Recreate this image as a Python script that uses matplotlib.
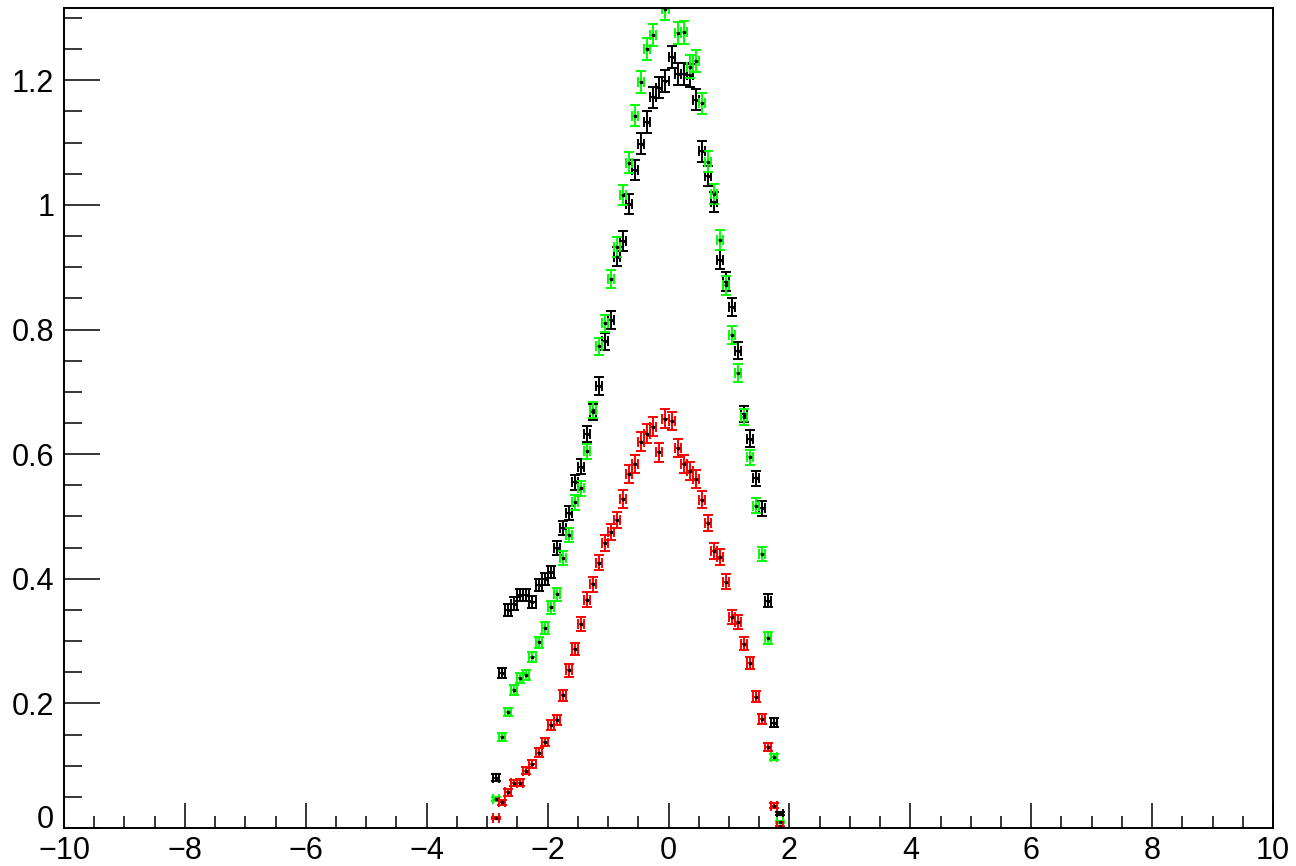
import numpy as np
import matplotlib
matplotlib.use("Agg")
import matplotlib.pyplot as plt
from matplotlib.ticker import MultipleLocator

# bin centres
x_centers = [-2.85 + 0.1 * i for i in range(48)]
x_halfwidth = 0.05

black_vals = [0.081, 0.249, 0.350, 0.360, 0.374, 0.374, 0.363, 0.390, 0.400, 0.411,
              0.449, 0.481, 0.505, 0.555, 0.580, 0.632, 0.668, 0.709, 0.781, 0.815,
              0.917, 0.942, 1.002, 1.056, 1.098, 1.133, 1.173, 1.188, 1.199, 1.237,
              1.210, 1.210, 1.208, 1.169, 1.086, 1.046, 1.004, 0.912, 0.877, 0.836,
              0.766, 0.665, 0.625, 0.561, 0.513, 0.365, 0.169, 0.023]
black_errs = [0.005, 0.008, 0.010, 0.010, 0.010, 0.010, 0.010, 0.010, 0.010, 0.010,
              0.011, 0.011, 0.011, 0.012, 0.012, 0.013, 0.013, 0.014, 0.014, 0.014,
              0.015, 0.016, 0.016, 0.016, 0.017, 0.017, 0.017, 0.017, 0.018, 0.018,
              0.018, 0.018, 0.018, 0.017, 0.017, 0.016, 0.016, 0.015, 0.015, 0.015,
              0.014, 0.013, 0.013, 0.012, 0.012, 0.010, 0.007, 0.002]

green_vals = [0.046, 0.146, 0.186, 0.222, 0.240, 0.246, 0.274, 0.298, 0.321, 0.354,
              0.375, 0.433, 0.470, 0.523, 0.545, 0.605, 0.671, 0.773, 0.810, 0.881,
              0.933, 1.016, 1.068, 1.143, 1.197, 1.250, 1.273, 1.350, 1.315, 1.340,
              1.276, 1.277, 1.222, 1.231, 1.163, 1.069, 1.018, 0.943, 0.871, 0.791,
              0.730, 0.660, 0.595, 0.517, 0.440, 0.305, 0.114, 0.010]
green_errs = [0.003, 0.006, 0.007, 0.008, 0.008, 0.008, 0.008, 0.009, 0.009, 0.010,
              0.010, 0.011, 0.011, 0.012, 0.012, 0.012, 0.013, 0.014, 0.014, 0.015,
              0.016, 0.016, 0.017, 0.017, 0.018, 0.018, 0.018, 0.019, 0.018, 0.019,
              0.018, 0.018, 0.018, 0.018, 0.017, 0.017, 0.016, 0.016, 0.015, 0.014,
              0.014, 0.013, 0.012, 0.012, 0.011, 0.009, 0.005, 0.002]

red_vals = [0.016, 0.041, 0.057, 0.072, 0.073, 0.092, 0.103, 0.121, 0.138, 0.165,
            0.173, 0.213, 0.253, 0.287, 0.327, 0.366, 0.391, 0.426, 0.458, 0.475,
            0.494, 0.528, 0.568, 0.584, 0.620, 0.633, 0.644, 0.603, 0.657, 0.653,
            0.610, 0.584, 0.573, 0.560, 0.527, 0.489, 0.445, 0.435, 0.395, 0.339,
            0.331, 0.296, 0.265, 0.211, 0.175, 0.130, 0.036, 0.003]
red_errs = [0.002, 0.004, 0.005, 0.005, 0.005, 0.006, 0.006, 0.007, 0.007, 0.008,
            0.008, 0.009, 0.010, 0.010, 0.011, 0.012, 0.012, 0.012, 0.013, 0.013,
            0.013, 0.014, 0.014, 0.015, 0.015, 0.015, 0.015, 0.015, 0.015, 0.015,
            0.015, 0.015, 0.014, 0.014, 0.014, 0.013, 0.013, 0.013, 0.012, 0.011,
            0.011, 0.010, 0.010, 0.009, 0.008, 0.007, 0.004, 0.001]

series = [(black_vals, black_errs, "#000000"),
          (green_vals, green_errs, "#00ff00"),
          (red_vals, red_errs, "#ff0000")]

plt.rcParams['font.family'] = ['Liberation Sans', 'DejaVu Sans']

fig = plt.figure(figsize=(12.96, 8.66), dpi=100)
ax = fig.add_axes([64/1296, 38/866, (1273-64)/1296, (828-8)/866])

for vals, errs, col in series:
    ax.errorbar(x_centers, vals, xerr=x_halfwidth, yerr=errs, fmt='s',
                color=col, ecolor=col, mfc='black', mec='black',
                markersize=1.8, elinewidth=1.4, capsize=3.8, capthick=1.4,
                clip_on=True)

ax.set_xlim(-10, 10)
ax.set_ylim(0, 1.316)
ax.xaxis.set_major_locator(MultipleLocator(2))
ax.xaxis.set_minor_locator(MultipleLocator(0.5))
ax.yaxis.set_major_locator(MultipleLocator(0.2))
ax.yaxis.set_minor_locator(MultipleLocator(0.05))

LABEL_SIZE = 22
Y_PAD = 7

def yfmt(v, pos):
    if abs(v) < 1e-9:
        return ''   # drawn separately, lifted above the axis like ROOT does
    return ('%.1f' % v).rstrip('0').rstrip('.')
ax.yaxis.set_major_formatter(plt.FuncFormatter(yfmt))
ax.xaxis.set_major_formatter(plt.FuncFormatter(lambda v, p: ('%d' % round(v)).replace('-', '\u2212')))

ax.annotate('0', xy=(0, 0), xycoords=('axes fraction', 'data'),
            xytext=(-Y_PAD, 0), textcoords='offset points',
            ha='right', va='baseline', fontsize=LABEL_SIZE, annotation_clip=False)

ax.tick_params(axis='both', which='both', direction='in', top=False, right=False,
               labelsize=LABEL_SIZE, width=1.1, colors='black')
ax.tick_params(axis='y', which='major', length=26, pad=Y_PAD)
ax.tick_params(axis='y', which='minor', length=13)
ax.tick_params(axis='x', which='major', length=18, pad=6)
ax.tick_params(axis='x', which='minor', length=9)

for sp in ax.spines.values():
    sp.set_linewidth(1.4)

fig.savefig("out.png", dpi=100)
